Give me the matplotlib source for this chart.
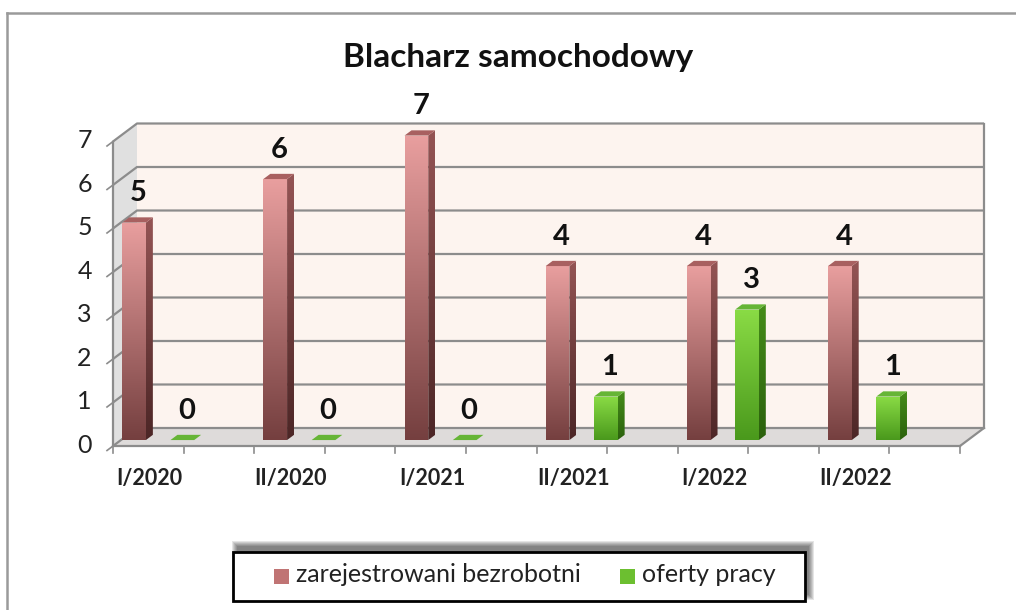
import matplotlib.pyplot as plt
import numpy as np
from matplotlib.patches import Rectangle, Polygon
from matplotlib.lines import Line2D

plt.rcParams['font.family'] = ['Lato', 'DejaVu Sans']

# data
categories = ['I/2020', 'II/2020', 'I/2021', 'II/2021', 'I/2022', 'II/2022']
bezrobotni = [5, 6, 7, 4, 4, 4]
oferty = [0, 0, 0, 1, 3, 1]
series_names = ['zarejestrowani bezrobotni', 'oferty pracy']
y_ticks = [0, 1, 2, 3, 4, 5, 6, 7]

W, H = 1016, 610
fig = plt.figure(figsize=(W / 100, H / 100), dpi=100)
ax = fig.add_axes([0, 0, 1, 1])
ax.axis('off')

# pixel layout of the 3d box -> data limits
x0_px, x6_px, y0_px, px_per_unit = 113, 960, 446, 43.5
px_per_cat = (x6_px - x0_px) / len(categories)
xlim = (-x0_px / px_per_cat, (W - x0_px) / px_per_cat)
ylim = (-(H - y0_px) / px_per_unit, y0_px / px_per_unit)
DX = 24 / px_per_cat   # depth shift of back wall
DY = 18 / px_per_unit
ymax = max(y_ticks)
ncat = len(categories)


def P(x, y, d):
    return (x + d * DX, y + d * DY)


def fx(px):
    return px / W


def fy(py):
    return 1 - py / H


grid_c = '#8c8c8c'
# back wall
ax.add_patch(Polygon([P(0, 0, 1), P(ncat, 0, 1), P(ncat, ymax, 1), P(0, ymax, 1)],
                     closed=True, fc='#fdf4ef', ec='none', zorder=1))
# side wall
ax.add_patch(Polygon([P(0, 0, 0), P(0, 0, 1), P(0, ymax, 1), P(0, ymax, 0)],
                     closed=True, fc='#e0e0e0', ec='none', zorder=1))
# floor
ax.add_patch(Polygon([P(0, 0, 0), P(ncat, 0, 0), P(ncat, 0, 1), P(0, 0, 1)],
                     closed=True, fc='#dedbda', ec='none', zorder=1))

for v in y_ticks:
    a, b, c = P(0, v, 0), P(0, v, 1), P(ncat, v, 1)
    ax.plot([a[0], b[0], c[0]], [a[1], b[1], c[1]], color=grid_c, lw=1.6, zorder=2,
            solid_capstyle='butt')
    t = P(0, v, -0.25)
    ax.plot([a[0], t[0]], [a[1], t[1]], color=grid_c, lw=1.2, zorder=2)
    ax.text(-0.15, v + 0.02, str(v), ha='right', va='center', fontsize=18, color='#222222')

# wall edges
for pts in ([P(0, 0, 0), P(0, ymax, 0)], [P(ncat, 0, 1), P(ncat, ymax, 1)],
            [P(0, 0, 0), P(ncat, 0, 0)], [P(ncat, 0, 0), P(ncat, 0, 1)]):
    ax.plot([pts[0][0], pts[1][0]], [pts[0][1], pts[1][1]], color=grid_c, lw=1.6, zorder=2)

# x ticks every half category
for t in np.arange(0, ncat + 0.01, 0.5):
    ax.plot([t, t], [0, -0.17], color=grid_c, lw=1.2, zorder=2)
for k, lab in enumerate(categories):
    ax.text(k + 0.26, -0.74, lab, ha='center', va='center', fontsize=15.5, fontweight='bold',
            color='#222222')

# bars
offsets = [0.093, 0.435]
width = 0.168
d0, d1 = 0.33, 0.62
front_cols = [((0.91, 0.62, 0.62), (0.46, 0.25, 0.25)), ((0.54, 0.86, 0.27), (0.29, 0.60, 0.11))]
side_cols = [((0.58, 0.33, 0.33), (0.30, 0.15, 0.15)), ((0.27, 0.55, 0.10), (0.17, 0.38, 0.05))]
top_cols = ['#a86060', '#66b536']
legend_cols = ['#c07474', '#6cbf30']


def grad_fill(patch, extent, c_top, c_bot):
    n = 64
    t = np.linspace(0, 1, n)[:, None]
    img = (np.array(c_bot)[None, :] * (1 - t) + np.array(c_top)[None, :] * t)[:, None, :]
    im = ax.imshow(img, extent=extent, origin='lower', aspect='auto', zorder=3,
                   interpolation='bilinear')
    im.set_clip_path(patch)


for s, vals in enumerate([bezrobotni, oferty]):
    for k, v in enumerate(vals):
        xa = k + offsets[s] - width / 2
        xb = xa + width
        if v > 0:
            front = Polygon([P(xa, 0, d0), P(xb, 0, d0), P(xb, v, d0), P(xa, v, d0)],
                            closed=True, fc='none', ec='none', zorder=3)
            ax.add_patch(front)
            ex0, ey0 = P(xa, 0, d0)
            ex1, ey1 = P(xb, v, d0)
            grad_fill(front, [ex0, ex1, ey0, ey1], *front_cols[s])
            side = Polygon([P(xb, 0, d0), P(xb, 0, d1), P(xb, v, d1), P(xb, v, d0)],
                           closed=True, fc='none', ec='none', zorder=3)
            ax.add_patch(side)
            sx0, sy0 = P(xb, 0, d0)
            sx1, sy1 = P(xb, v, d1)
            grad_fill(side, [sx0, sx1, sy0, sy1], *side_cols[s])
        ax.add_patch(Polygon([P(xa, v, d0), P(xb, v, d0), P(xb, v, d1), P(xa, v, d1)],
                             closed=True, fc=top_cols[s], ec='none', zorder=4))
        lx, ly = P(k + offsets[s] + 0.03, v, d0)
        ax.annotate(str(v), (lx, ly), xytext=(0, 21), textcoords='offset points',
                    ha='center', va='center', fontsize=21, fontweight='bold', color='#111111')

ax.set_xlim(*xlim)
ax.set_ylim(*ylim)

# title
fig.text(fx(518), fy(57), 'Blacharz samochodowy', ha='center', va='center',
         fontsize=24, fontweight='bold', color='#111111')

# outer frame (top and left edges visible)
fig.add_artist(Line2D([fx(7), 1], [fy(13), fy(13)], color='#9a9a9a', lw=1.8))
fig.add_artist(Line2D([fx(7), fx(7)], [0, fy(13)], color='#9a9a9a', lw=1.8))

# legend box with soft shadow
bx0, bx1, by0, by1 = 233, 805, 552, 601
for i in range(6):
    fig.add_artist(Rectangle((fx(bx0 + 4 - i), fy(by1 - 6 + i)), (bx1 - bx0 + 2 * i) / W,
                             (by1 - by0 + 2 * i) / H, transform=fig.transFigure,
                             fc='black', ec='none', alpha=0.1, zorder=5))
fig.add_artist(Rectangle((fx(bx0), fy(by1)), (bx1 - bx0) / W, (by1 - by0) / H,
                         transform=fig.transFigure, fc='white', ec='black', lw=2, zorder=6))
sq = 15
for name, col, px_sq, px_txt in zip(series_names, legend_cols, [274, 620], [296, 642]):
    fig.add_artist(Rectangle((fx(px_sq), fy(576 + sq / 2)), sq / W, sq / H,
                             transform=fig.transFigure, fc=col, ec='none', zorder=7))
    fig.text(fx(px_txt), fy(575), name, ha='left', va='center', fontsize=18,
             color='#222222', zorder=7)

fig.savefig('out.png', dpi=100)
